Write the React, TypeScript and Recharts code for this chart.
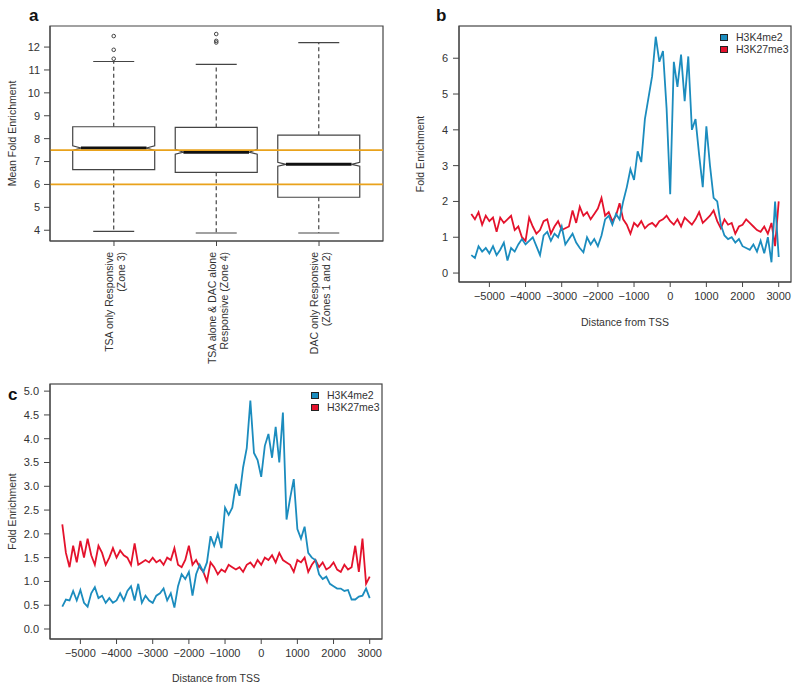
import React from 'react';
import { ComposedChart, Line, Bar, XAxis, YAxis, ReferenceLine, ReferenceArea, Label } from 'recharts';

const FONT = '"Liberation Sans", Arial, Helvetica, sans-serif';
const INK = '#333';
const AXIS = '#444';
const BLUE = '#1B8CBE';
const RED = '#E4122C';
const ORANGE = '#E9A21B';

// panel a: box plots
const groupLine1 = ['TSA only Responsive', 'TSA alone & DAC alone', 'DAC only Responsive'];
const groupLine2 = ['(Zone 3)', 'Responsive (Zone 4)', '(Zones 1 and 2)'];
const groupPos = [1, 2, 3];
const whiskerLow = [3.95, 3.88, 3.88];
const q1 = [6.65, 6.53, 5.44];
const median = [7.59, 7.41, 6.88];
const q3 = [8.52, 8.49, 8.15];
const whiskerHigh = [11.37, 11.24, 12.19];
const notchLow = [7.48, 7.32, 6.8];
const notchHigh = [7.69, 7.53, 6.97];
const outliers = [[11.49, 11.88, 12.48], [12.2, 12.27, 12.57], []];
const thresholds = [7.5, 6.0];
const boxTicks = [4, 5, 6, 7, 8, 9, 10, 11, 12];
const boxDomain = [3.53, 12.92];

// panels b and c: profiles around the TSS
const positions = [
  -5500, -5400, -5300, -5200, -5100, -5000, -4900, -4800, -4700, -4600,
  -4500, -4400, -4300, -4200, -4100, -4000, -3900, -3800, -3700, -3600,
  -3500, -3400, -3300, -3200, -3100, -3000, -2900, -2800, -2700, -2600,
  -2500, -2400, -2300, -2200, -2100, -2000, -1900, -1800, -1700, -1600,
  -1500, -1400, -1300, -1200, -1100, -1000, -900, -800, -700, -600,
  -500, -400, -300, -200, -100, 0, 100, 200, 300, 400,
  500, 600, 700, 800, 900, 1000, 1100, 1200, 1300, 1400,
  1500, 1600, 1700, 1800, 1900, 2000, 2100, 2200, 2300, 2400,
  2500, 2600, 2700, 2800, 2900, 3000,
];
const blueB = [
  0.5, 0.42, 0.75, 0.6, 0.7, 0.55, 0.75, 0.5, 0.65, 0.85,
  0.35, 0.7, 0.6, 0.8, 0.95, 0.8, 0.9, 1.0, 0.75, 0.5,
  1.05, 1.15, 0.9, 1.1, 1.0, 1.3, 0.8, 0.95, 1.1, 0.85,
  0.7, 0.58, 1.0, 0.8, 0.95, 0.75, 1.05, 1.5, 1.6, 1.35,
  1.65, 1.5, 2.0, 2.4, 2.9, 2.6, 3.4, 3.1, 4.3, 4.9,
  5.5, 6.6, 5.9, 6.2, 4.6, 2.2, 5.9, 5.2, 6.1, 4.8,
  6.05, 4.0, 4.3, 3.3, 2.4, 4.1, 3.0, 2.1, 2.0, 1.35,
  1.05, 0.95, 1.0, 0.85, 0.95, 0.75, 0.7, 0.65, 0.8, 0.6,
  0.9, 0.55, 1.0, 0.3, 2.0, 0.45,
];
const redB = [
  1.65, 1.5, 1.7, 1.35, 1.6, 1.45, 1.55, 1.15, 1.55, 1.4,
  1.5, 1.6, 1.2, 1.3, 1.0, 0.9, 1.55, 1.3, 1.1, 1.2,
  1.45, 1.5, 1.1, 1.3, 1.45, 1.2, 1.25, 1.3, 1.75, 1.4,
  1.85, 1.6, 1.7, 1.5, 1.65, 1.8, 2.1, 1.6, 1.7, 1.45,
  1.6, 1.95, 1.5, 1.35, 1.1, 1.4, 1.3, 1.45, 1.25, 1.35,
  1.4, 1.3, 1.45, 1.5, 1.6, 1.45, 1.35, 1.5, 1.3, 1.55,
  1.45, 1.35, 1.5, 1.7, 1.4, 1.5, 1.6, 1.75, 1.45, 1.25,
  1.5, 1.35, 1.4, 1.1, 1.3, 1.35, 1.5, 1.4, 1.3, 1.2,
  1.15, 1.3, 1.1, 1.4, 0.75, 2.0,
];
const blueC = [
  0.47, 0.62, 0.6, 0.8, 0.6, 0.82, 0.55, 0.47, 0.75, 0.88,
  0.65, 0.7, 0.55, 0.65, 0.55, 0.6, 0.75, 0.6, 0.8, 0.9,
  0.6, 0.95, 0.55, 0.7, 0.6, 0.55, 0.7, 0.75, 0.85, 0.6,
  0.75, 0.45, 0.9, 1.15, 1.05, 1.2, 0.7, 1.15, 1.35, 1.2,
  1.4, 1.95, 1.75, 2.0, 1.7, 2.55, 2.4, 2.55, 3.05, 2.8,
  3.4, 3.8, 4.8, 3.7, 3.55, 3.2, 3.85, 4.1, 3.6, 4.25,
  3.5, 4.55, 2.3, 2.75, 3.15, 2.1, 1.9, 2.15, 1.6, 1.5,
  1.45, 1.15, 1.05, 1.1, 0.95, 0.9, 0.85, 0.85, 0.8, 0.82,
  0.62, 0.62, 0.68, 0.7, 0.85, 0.65,
];
const redC = [
  2.2, 1.6, 1.3, 1.75, 1.4, 1.85, 1.5, 1.9, 1.55, 1.35,
  1.75, 1.6, 1.35, 1.5, 1.7, 1.5, 1.65, 1.55, 1.5, 1.35,
  1.8, 1.35, 1.4, 1.45, 1.4, 1.5, 1.4, 1.45, 1.35, 1.5,
  1.45, 1.7, 1.35, 1.3, 1.45, 1.75, 1.35, 1.45, 1.3, 1.2,
  1.0, 1.4, 1.3, 1.15, 1.25, 1.2, 1.35, 1.3, 1.25, 1.3,
  1.2, 1.35, 1.4, 1.3, 1.45, 1.35, 1.5, 1.45, 1.55, 1.4,
  1.6, 1.45, 1.4, 1.35, 1.2, 1.45, 1.4, 1.5, 1.2, 1.35,
  1.45, 1.3, 1.4, 1.25, 1.3, 1.4, 1.25, 1.2, 1.35, 1.25,
  1.3, 1.75, 1.2, 1.9, 0.95, 1.1,
];
const seriesNames = ['H3K4me2', 'H3K27me3'];
const seriesColors = [BLUE, RED];
const tssDomain = [-5840, 3340];
const tssTicks = [-5000, -4000, -3000, -2000, -1000, 0, 1000, 2000, 3000];
const ticksB = [0, 1, 2, 3, 4, 5, 6];
const ticksC = [0, 0.5, 1, 1.5, 2, 2.5, 3, 3.5, 4, 4.5, 5];
const domainB = [-0.25, 6.9];
const domainC = [-0.21, 5.15];

const boxData = groupPos.map((g, i) => ({ pos: g, idx: i, range: [whiskerLow[i], whiskerHigh[i]] }));
const dataB = positions.map((p, i) => ({ pos: p, blue: blueB[i], red: redB[i] }));
const dataC = positions.map((p, i) => ({ pos: p, blue: blueC[i], red: redC[i] }));

const tickStyle = { fontSize: 11, fill: INK, fontFamily: FONT };
const fmtTss = (v: number) => (v < 0 ? '\u2212' + Math.abs(v) : String(v));
const fmtOne = (v: number) => v.toFixed(1);

function BoxShape(props: any) {
  const { x, y, width, height } = props;
  const i = props.payload?.idx ?? props.index;
  const top = Math.min(y, y + height);
  const bottom = Math.max(y, y + height);
  const lo = whiskerLow[i];
  const hi = whiskerHigh[i];
  const px = (v: number) => bottom - ((v - lo) / (hi - lo)) * (bottom - top);
  const cx = x + width / 2;
  const h = width / 2;
  const ind = width * 0.1;
  const pts = [
    [cx - h, px(q3[i])], [cx + h, px(q3[i])], [cx + h, px(notchHigh[i])],
    [cx + h - ind, px(median[i])], [cx + h, px(notchLow[i])], [cx + h, px(q1[i])],
    [cx - h, px(q1[i])], [cx - h, px(notchLow[i])], [cx - h + ind, px(median[i])],
    [cx - h, px(notchHigh[i])],
  ].map((p) => p.join(',')).join(' ');
  return (
    <g>
      <line x1={cx} x2={cx} y1={px(q3[i])} y2={px(hi)} stroke={AXIS} strokeWidth={1.2} strokeDasharray="4 3" />
      <line x1={cx} x2={cx} y1={px(q1[i])} y2={px(lo)} stroke={AXIS} strokeWidth={1.2} strokeDasharray="4 3" />
      <line x1={cx - h / 2} x2={cx + h / 2} y1={px(hi)} y2={px(hi)} stroke={AXIS} strokeWidth={1.2} />
      <line x1={cx - h / 2} x2={cx + h / 2} y1={px(lo)} y2={px(lo)} stroke={AXIS} strokeWidth={1.2} />
      <polygon points={pts} fill="#fff" stroke={AXIS} strokeWidth={1.2} />
      <line x1={cx - h + ind} x2={cx + h - ind} y1={px(median[i])} y2={px(median[i])} stroke="#111" strokeWidth={3} />
      {outliers[i].map((o, k) => (
        <circle key={k} cx={cx} cy={px(o)} r={1.8} fill="none" stroke={AXIS} strokeWidth={1} />
      ))}
    </g>
  );
}

function GroupTick(props: any) {
  const { x, y, payload } = props;
  const i = groupPos.indexOf(payload.value);
  const common = { textAnchor: 'end' as const, dominantBaseline: 'central' as const, fontSize: 10.5, fill: INK, fontFamily: FONT };
  return (
    <g>
      <text transform={`translate(${x - 5},${y}) rotate(-90)`} {...common}>{groupLine1[i]}</text>
      <text transform={`translate(${x + 7},${y}) rotate(-90)`} {...common}>{groupLine2[i]}</text>
    </g>
  );
}

function SeriesKey(props: { left: number; top: number }) {
  return (
    <div style={{ position: 'absolute', left: props.left, top: props.top, zIndex: 6, fontFamily: FONT, fontSize: 10.5, color: INK, lineHeight: '12px' }}>
      {seriesNames.map((n, i) => (
        <div key={n} style={{ display: 'flex', alignItems: 'center', whiteSpace: 'nowrap' }}>
          <span style={{ display: 'inline-block', width: 6, height: 5, background: seriesColors[i], border: '1px solid #222', marginRight: 8 }} />
          {n}
        </div>
      ))}
    </div>
  );
}

// frame round a plot area (R's box()), as an svg overlay above the chart
function PlotFrame(props: { left: number; top: number; width: number; height: number }) {
  return (
    <svg width={400} height={400} style={{ position: 'absolute', left: 0, top: 0, zIndex: 5, pointerEvents: 'none', overflow: 'visible' }}>
      <rect x={props.left} y={props.top} width={props.width} height={props.height} fill="none" stroke={AXIS} strokeWidth={1.2} />
    </svg>
  );
}

const axisLabelStyle = { textAnchor: 'middle' as const, fontSize: 10.5, fill: INK, fontFamily: FONT };

function PanelA() {
  return (
    <ComposedChart width={400} height={380} data={boxData} margin={{ top: 26, right: 17, bottom: 0, left: 0 }} style={{ overflow: 'visible' }}>
      <XAxis dataKey="pos" type="number" domain={[0.376, 3.624]} ticks={groupPos} allowDataOverflow height={139} tick={<GroupTick />} tickSize={5} tickMargin={6} stroke={AXIS} interval={0} />
      <YAxis domain={boxDomain} ticks={boxTicks} allowDataOverflow width={50} tick={tickStyle} tickSize={6} tickMargin={4} stroke={AXIS}>
        <Label value="Mean Fold Enrichment" angle={-90} position="insideLeft" offset={12} style={axisLabelStyle} />
      </YAxis>
      <ReferenceArea y1={boxDomain[0]} y2={boxDomain[1]} fill="none" stroke={AXIS} strokeWidth={1.2} ifOverflow="visible" />
      <Bar dataKey="range" barSize={82} shape={<BoxShape />} isAnimationActive={false} />
      {thresholds.map((t) => (
        <ReferenceLine key={t} y={t} stroke={ORANGE} strokeWidth={1.8} />
      ))}
    </ComposedChart>
  );
}

function PanelB() {
  return (
    <ComposedChart width={400} height={360} data={dataB} margin={{ top: 26, right: 9, bottom: 0, left: 0 }} style={{ overflow: 'visible' }}>
      <XAxis dataKey="pos" type="number" domain={tssDomain} ticks={tssTicks} allowDataOverflow height={78} tick={tickStyle} tickFormatter={fmtTss} tickSize={5} tickMargin={5} stroke={AXIS}>
        <Label value="Distance from TSS" position="insideBottom" offset={34} style={axisLabelStyle} />
      </XAxis>
      <YAxis domain={domainB} ticks={ticksB} allowDataOverflow width={59} tick={tickStyle} tickSize={6} tickMargin={5} stroke={AXIS}>
        <Label value="Fold Enrichment" angle={-90} position="insideLeft" offset={20} style={axisLabelStyle} />
      </YAxis>
      <Line dataKey="red" name={seriesNames[1]} stroke={RED} strokeWidth={1.8} dot={false} type="linear" isAnimationActive={false} />
      <Line dataKey="blue" name={seriesNames[0]} stroke={BLUE} strokeWidth={1.8} dot={false} type="linear" isAnimationActive={false} />
    </ComposedChart>
  );
}

function PanelC() {
  return (
    <ComposedChart width={400} height={311} data={dataC} margin={{ top: 4, right: 18, bottom: 0, left: 0 }} style={{ overflow: 'visible' }}>
      <XAxis dataKey="pos" type="number" domain={tssDomain} ticks={tssTicks} allowDataOverflow height={52} tick={tickStyle} tickFormatter={fmtTss} tickSize={5} tickMargin={5} stroke={AXIS}>
        <Label value="Distance from TSS" position="insideBottom" offset={9} style={axisLabelStyle} />
      </XAxis>
      <YAxis domain={domainC} ticks={ticksC} allowDataOverflow width={50} tick={tickStyle} tickFormatter={fmtOne} tickSize={6} tickMargin={5} stroke={AXIS}>
        <Label value="Fold Enrichment" angle={-90} position="insideLeft" offset={12} style={axisLabelStyle} />
      </YAxis>
      <Line dataKey="red" name={seriesNames[1]} stroke={RED} strokeWidth={1.8} dot={false} type="linear" isAnimationActive={false} />
      <Line dataKey="blue" name={seriesNames[0]} stroke={BLUE} strokeWidth={1.8} dot={false} type="linear" isAnimationActive={false} />
    </ComposedChart>
  );
}

const letterStyle: React.CSSProperties = { position: 'absolute', fontFamily: FONT, fontWeight: 'bold', fontSize: 17, lineHeight: '17px', color: '#111' };

export default function App() {
  return (
    <div style={{ position: 'absolute', left: 0, top: 0, width: 800, height: 691, background: '#fff', fontFamily: FONT }}>
      <div style={{ position: 'absolute', left: 0, top: 0, width: 400, height: 380 }}>
        <PanelA />
      </div>
      <div style={{ position: 'absolute', left: 400, top: 0, width: 400, height: 360 }}>
        <PanelB />
        <PlotFrame left={59} top={26} width={332} height={256} />
        <SeriesKey left={320} top={31} />
      </div>
      <div style={{ position: 'absolute', left: 0, top: 380, width: 400, height: 311 }}>
        <PanelC />
        <PlotFrame left={50} top={4} width={332} height={255} />
        <SeriesKey left={311} top={9} />
      </div>
      <div style={{ ...letterStyle, left: 29, top: 7 }}>a</div>
      <div style={{ ...letterStyle, left: 436, top: 7 }}>b</div>
      <div style={{ ...letterStyle, left: 8, top: 386 }}>c</div>
    </div>
  );
}
